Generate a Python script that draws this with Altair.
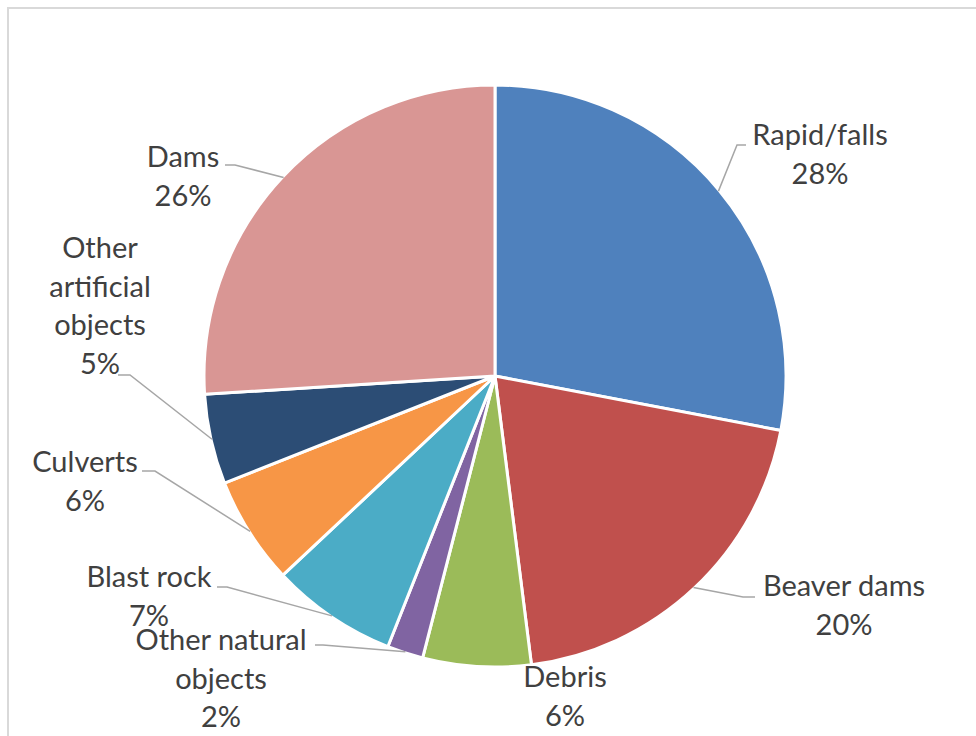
import math

import altair as alt
import pandas as pd

# Share of barriers by type (percent)
categories = [
    "Rapid/falls", "Beaver dams", "Debris", "Other natural objects",
    "Blast rock", "Culverts", "Other artificial objects", "Dams",
]
shares = [28, 20, 6, 2, 7, 6, 5, 26]
label_text = [
    "Rapid/falls", "Beaver dams", "Debris", "Other natural\nobjects",
    "Blast rock", "Culverts", "Other\nartificial\nobjects", "Dams",
]
colors = ["#4F81BD", "#C0504D", "#9BBB59", "#8064A2",
          "#4BACC6", "#F79646", "#2C4D75", "#D99694"]

# Layout (pixels)
W, H = 976, 736
CX, CY, R = 495, 376, 291
# label centre x and first-line baseline y
label_pos = [(820, 145), (844, 596), (565, 687), (221, 650),
             (149, 587), (85, 472), (100, 258), (183, 167)]
# leader line: (outer x, elbow x, y); None = no leader
leader_pos = [(746, 737, 145), (755, 743, 597), None, (315, 323, 645),
              (217, 227, 587), (142, 155, 471), (118, 130, 375), (225, 235, 165)]

pie = pd.DataFrame({"idx": range(len(categories)), "category": categories, "share": shares})

labels = pd.DataFrame({
    "category": categories,
    "text": [f"{t}\n{s}%" for t, s in zip(label_text, shares)],
    "px": [p[0] for p in label_pos],
    "py": [p[1] for p in label_pos],
})

# leader lines run from the slice edge at its mid-angle to the label
rows = []
total = sum(shares)
acc = 0.0
for cat, s, lp in zip(categories, shares, leader_pos):
    mid = (acc + s / 2) / total * 2 * math.pi
    acc += s
    if lp is None:
        continue
    ex = CX + (R - 1) * math.sin(mid)
    ey = CY - (R - 1) * math.cos(mid)
    rows += [
        {"category": cat, "pt": 0, "px": lp[0], "py": lp[2]},
        {"category": cat, "pt": 1, "px": lp[1], "py": lp[2]},
        {"category": cat, "pt": 2, "px": ex, "py": ey},
    ]
leaders = pd.DataFrame(rows)

xs = alt.Scale(domain=[0, W], range=[0, W])
ys = alt.Scale(domain=[0, H], range=[0, H])

frame = alt.Chart(pd.DataFrame({"a": [0]})).mark_rect(
    fill="white", stroke="#d9d9d9", strokeWidth=2
).encode(x=alt.value(8), y=alt.value(8), x2=alt.value(W + 20), y2=alt.value(H + 20))

arcs = alt.Chart(pie).mark_arc(outerRadius=R, stroke="white", strokeWidth=3).encode(
    theta=alt.Theta("share:Q", stack=True),
    order=alt.Order("idx:Q"),
    color=alt.Color("category:N", scale=alt.Scale(domain=categories, range=colors), legend=None),
    x=alt.value(CX),
    y=alt.value(CY),
)

lines = alt.Chart(leaders).mark_line(color="#a6a6a6", strokeWidth=1.5).encode(
    x=alt.X("px:Q", scale=xs, axis=None),
    y=alt.Y("py:Q", scale=ys, axis=None),
    detail="category:N",
    order="pt:Q",
)

text = alt.Chart(labels).mark_text(
    font="Lato", fontSize=29, color="#404040", align="center",
    baseline="alphabetic", lineBreak="\n", lineHeight=38.5,
).encode(
    x=alt.X("px:Q", scale=xs, axis=None),
    y=alt.Y("py:Q", scale=ys, axis=None),
    text="text:N",
)

chart = alt.layer(frame, arcs, lines, text).properties(
    width=W, height=H, padding=0, autosize=alt.AutoSizeParams(type="none"),
    background="white",
).configure_view(stroke=None)

chart.save("out.html", embed_options={"renderer": "svg", "actions": False})
